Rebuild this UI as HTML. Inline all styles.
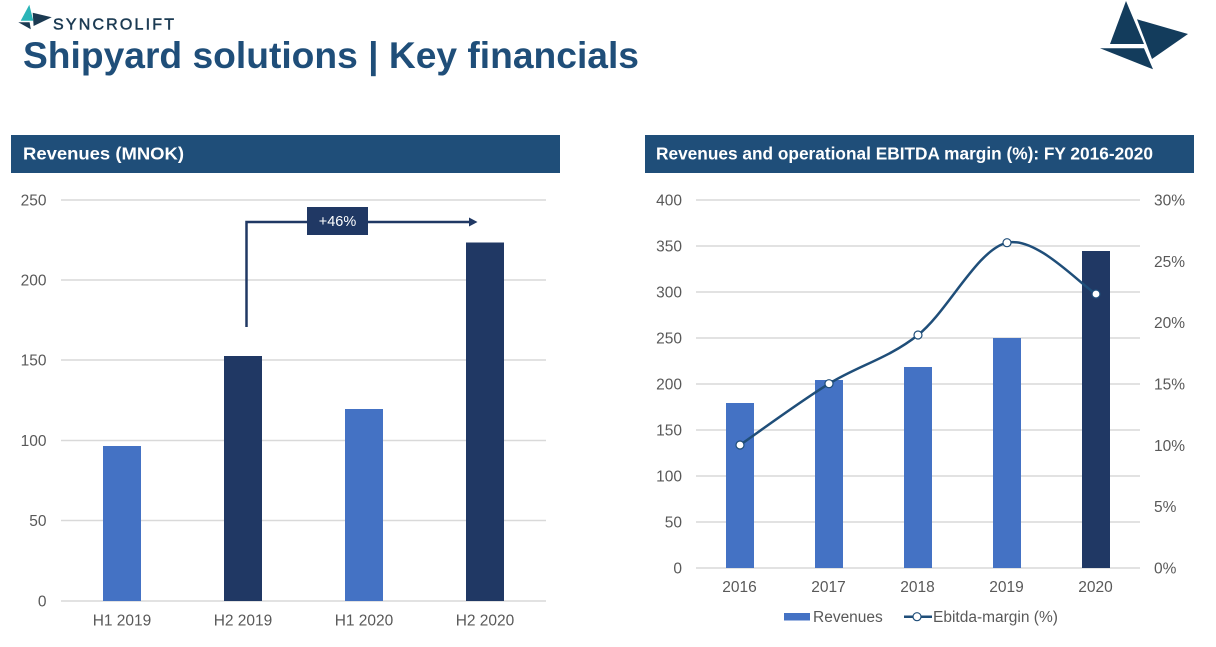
<!DOCTYPE html>
<html>
<head>
<meta charset="utf-8">
<style>
  html, body { margin: 0; padding: 0; background: #ffffff; }
  body { width: 1216px; height: 647px; overflow: hidden; }
  svg { display: block; }
  text { font-family: "Liberation Sans", Arial, sans-serif; }
</style>
</head>
<body>
<svg width="1216" height="647" viewBox="0 0 1216 647" xmlns="http://www.w3.org/2000/svg">
  <rect x="0" y="0" width="1216" height="647" fill="#ffffff"/>

  <!-- Small logo -->
  <polygon points="29.3,4.7 20.7,20.7 33.3,20.7" fill="#2bb5b8"/>
  <polygon points="32.7,12.7 51.7,17.3 33.6,26" fill="#1b3a52"/>
  <polygon points="18.3,22.3 29.6,22.3 30.8,29.3" fill="#1b3a52"/>
  <text x="53" y="29.5" font-size="16" fill="#1b3a52" stroke="#1b3a52" stroke-width="0.5" textLength="121" lengthAdjust="spacing">SYNCROLIFT</text>

  <!-- Title -->
  <text x="23" y="68" font-size="37" font-weight="bold" fill="#1f4e79" textLength="616" lengthAdjust="spacingAndGlyphs">Shipyard solutions | Key financials</text>

  <!-- Big logo top right -->
  <polygon points="1126,1 1110,44 1144,44" fill="#133c5c"/>
  <polygon points="1137,19.3 1188,34 1152,59" fill="#133c5c"/>
  <polygon points="1100,48.3 1144,48.3 1153,69.3" fill="#133c5c"/>

  <!-- Header bars -->
  <rect x="11" y="135" width="549" height="38" fill="#1f4e79"/>
  <text x="23" y="159.5" font-size="17.5" font-weight="bold" fill="#ffffff" textLength="161" lengthAdjust="spacingAndGlyphs">Revenues (MNOK)</text>
  <rect x="645" y="135" width="549" height="38" fill="#1f4e79"/>
  <text x="656" y="159.5" font-size="17.5" font-weight="bold" fill="#ffffff" textLength="497" lengthAdjust="spacingAndGlyphs">Revenues and operational EBITDA margin (%): FY 2016-2020</text>

  <!-- ============ LEFT CHART ============ -->
  <g stroke="#d9d9d9" stroke-width="1.5">
    <line x1="61" y1="200" x2="546" y2="200"/>
    <line x1="61" y1="280" x2="546" y2="280"/>
    <line x1="61" y1="360" x2="546" y2="360"/>
    <line x1="61" y1="440.5" x2="546" y2="440.5"/>
    <line x1="61" y1="520.5" x2="546" y2="520.5"/>
    <line x1="61" y1="601" x2="546" y2="601"/>
  </g>
  <g font-size="15.5" fill="#595959" text-anchor="end">
    <text x="46.5" y="205.5">250</text>
    <text x="46.5" y="285.5">200</text>
    <text x="46.5" y="365.5">150</text>
    <text x="46.5" y="446">100</text>
    <text x="46.5" y="526">50</text>
    <text x="46.5" y="606.5">0</text>
  </g>
  <rect x="103" y="446" width="38" height="155" fill="#4472c4"/>
  <rect x="224" y="356" width="38" height="245" fill="#203864"/>
  <rect x="345" y="409" width="38" height="192" fill="#4472c4"/>
  <rect x="466" y="242.5" width="38" height="358.5" fill="#203864"/>
  <g font-size="15.5" fill="#595959" text-anchor="middle">
    <text x="122" y="625.5">H1 2019</text>
    <text x="243" y="625.5">H2 2019</text>
    <text x="364" y="625.5">H1 2020</text>
    <text x="485" y="625.5">H2 2020</text>
  </g>
  <!-- growth arrow -->
  <polyline points="246.5,327 246.5,222 471,222" fill="none" stroke="#203864" stroke-width="2.5"/>
  <polygon points="469,217.5 477.5,222 469,226.5" fill="#203864"/>
  <rect x="307" y="207" width="61" height="28" fill="#203864"/>
  <text x="337.5" y="226" font-size="14.5" fill="#ffffff" text-anchor="middle">+46%</text>

  <!-- ============ RIGHT CHART ============ -->
  <g stroke="#d9d9d9" stroke-width="1.5">
    <line x1="696" y1="200" x2="1140" y2="200"/>
    <line x1="696" y1="246" x2="1140" y2="246"/>
    <line x1="696" y1="292" x2="1140" y2="292"/>
    <line x1="696" y1="338" x2="1140" y2="338"/>
    <line x1="696" y1="384" x2="1140" y2="384"/>
    <line x1="696" y1="430" x2="1140" y2="430"/>
    <line x1="696" y1="476" x2="1140" y2="476"/>
    <line x1="696" y1="522" x2="1140" y2="522"/>
    <line x1="696" y1="568" x2="1140" y2="568"/>
  </g>
  <g font-size="15.5" fill="#595959" text-anchor="end">
    <text x="682" y="205.5">400</text>
    <text x="682" y="251.5">350</text>
    <text x="682" y="297.5">300</text>
    <text x="682" y="343.5">250</text>
    <text x="682" y="389.5">200</text>
    <text x="682" y="435.5">150</text>
    <text x="682" y="481.5">100</text>
    <text x="682" y="527.5">50</text>
    <text x="682" y="573.5">0</text>
  </g>
  <g font-size="15.5" fill="#595959">
    <text x="1154" y="205.5">30%</text>
    <text x="1154" y="266.8">25%</text>
    <text x="1154" y="328.2">20%</text>
    <text x="1154" y="389.5">15%</text>
    <text x="1154" y="450.8">10%</text>
    <text x="1154" y="512.2">5%</text>
    <text x="1154" y="573.5">0%</text>
  </g>
  <rect x="726" y="403" width="28" height="165" fill="#4472c4"/>
  <rect x="815" y="380" width="28" height="188" fill="#4472c4"/>
  <rect x="904" y="367" width="28" height="201" fill="#4472c4"/>
  <rect x="993" y="338" width="28" height="230" fill="#4472c4"/>
  <rect x="1082" y="251" width="28" height="317" fill="#203864"/>

  <path d="M740,445 C754.8,434.8 799.3,402 829,383.7 C858.7,365.4 888.3,358.5 918,335 C947.7,311.5 977.3,249.5 1007,242.7 C1036.7,235.9 1081.2,285.5 1096,294"
        fill="none" stroke="#1f4e79" stroke-width="2.5"/>
  <g fill="#ffffff" stroke="#1f4e79" stroke-width="1.2">
    <circle cx="740" cy="445" r="4"/>
    <circle cx="829" cy="383.7" r="4"/>
    <circle cx="918" cy="335" r="4"/>
    <circle cx="1007" cy="242.7" r="4"/>
    <circle cx="1096" cy="294" r="4"/>
  </g>

  <g font-size="15.5" fill="#595959" text-anchor="middle">
    <text x="739.5" y="592">2016</text>
    <text x="828.5" y="592">2017</text>
    <text x="917.5" y="592">2018</text>
    <text x="1006.5" y="592">2019</text>
    <text x="1095.5" y="592">2020</text>
  </g>

  <!-- Legend -->
  <rect x="784" y="613" width="26" height="7.5" fill="#4472c4"/>
  <text x="813" y="622" font-size="15.5" fill="#595959">Revenues</text>
  <line x1="904" y1="616.7" x2="932" y2="616.7" stroke="#1f4e79" stroke-width="2.5"/>
  <circle cx="917" cy="616.7" r="4" fill="#ffffff" stroke="#1f4e79" stroke-width="1.2"/>
  <text x="933" y="622" font-size="15.5" fill="#595959">Ebitda-margin (%)</text>
</svg>
</body>
</html>
